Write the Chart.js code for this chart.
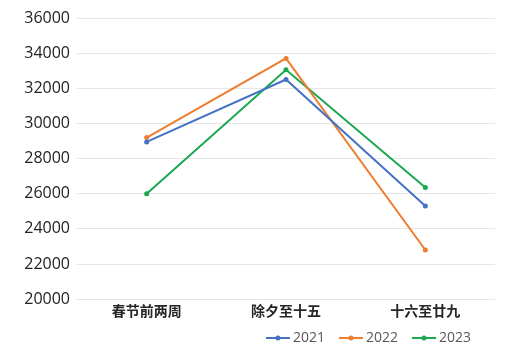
<!DOCTYPE html>
<html>
<head>
<meta charset="utf-8">
<script src="https://cdn.jsdelivr.net/npm/chart.js@4/dist/chart.umd.min.js"></script>
<style>
  html, body { margin: 0; padding: 0; background: #fff; }
  #wrap { width: 511px; height: 362px; }
</style>
</head>
<body>
<div id="wrap"><canvas id="lineChart"></canvas></div>
<script>
// chart data
const categories = ['春节前两周', '除夕至十五', '十六至廿九'];
const years = ['2021', '2022', '2023'];
const values2021 = [28950, 32500, 25300];
const values2022 = [29200, 33700, 22800];
const values2023 = [26000, 33050, 26350];
const yTicks = [20000, 22000, 24000, 26000, 28000, 30000, 32000, 34000, 36000];

const colors = ['#4472C4', '#ED7D31', '#19A84F'];

// legend drawn at the bottom right, line with a dot in the middle
const lineLegend = {
  id: 'lineLegend',
  afterDraw(chart) {
    const ctx = chart.ctx;
    ctx.save();
    ctx.font = '14px "Open Sans", sans-serif';
    ctx.textBaseline = 'middle';
    const sets = chart.data.datasets;
    const lineW = 24, gap = 3, between = 14;
    let total = 0;
    sets.forEach((ds, i) => {
      total += lineW + gap + ctx.measureText(ds.label).width;
      if (i < sets.length - 1) total += between;
    });
    let x = 471 - total;
    const y = 338;
    sets.forEach(ds => {
      ctx.strokeStyle = ds.borderColor;
      ctx.lineWidth = 2;
      ctx.beginPath();
      ctx.moveTo(x, y);
      ctx.lineTo(x + lineW, y);
      ctx.stroke();
      ctx.fillStyle = ds.borderColor;
      ctx.beginPath();
      ctx.arc(x + lineW / 2, y, 2.5, 0, Math.PI * 2);
      ctx.fill();
      x += lineW + gap;
      ctx.fillStyle = '#595959';
      ctx.fillText(ds.label, x, y);
      x += ctx.measureText(ds.label).width + between;
    });
    ctx.restore();
  }
};

document.addEventListener('DOMContentLoaded', function () {
  const ctx = document.getElementById('lineChart').getContext('2d');
  const series = [values2021, values2022, values2023];
  new Chart(ctx, {
    type: 'line',
    data: {
      labels: categories,
      datasets: series.map((vals, i) => ({
        label: years[i],
        data: vals,
        borderColor: colors[i],
        backgroundColor: colors[i],
        borderWidth: 2,
        tension: 0,
        pointRadius: 2.5,
        pointBorderWidth: 0,
      })),
    },
    options: {
      responsive: true,
      maintainAspectRatio: false,
      animation: false,
      layout: {
        padding: { left: 0, right: 16, top: 18, bottom: 40 },
      },
      plugins: {
        legend: { display: false },
        tooltip: { enabled: false },
      },
      scales: {
        x: {
          offset: true,
          grid: { display: false, drawTicks: false },
          border: { display: false },
          ticks: {
            color: '#262626',
            font: { family: '"Noto Sans CJK SC", sans-serif', size: 14, weight: 'bold' },
            padding: 3,
          },
        },
        y: {
          min: yTicks[0],
          max: yTicks[yTicks.length - 1],
          afterBuildTicks(axis) {
            axis.ticks = yTicks.map(v => ({ value: v }));
          },
          afterFit(axis) {
            axis.width = 77;
          },
          grid: { color: '#E6E6E6', drawTicks: false },
          border: { display: false },
          ticks: {
            color: '#222',
            padding: 7,
            font: { family: '"Open Sans", sans-serif', size: 16 },
            callback: v => String(v),
          },
        },
      },
    },
    plugins: [lineLegend],
  });
});
</script>
</body>
</html>
